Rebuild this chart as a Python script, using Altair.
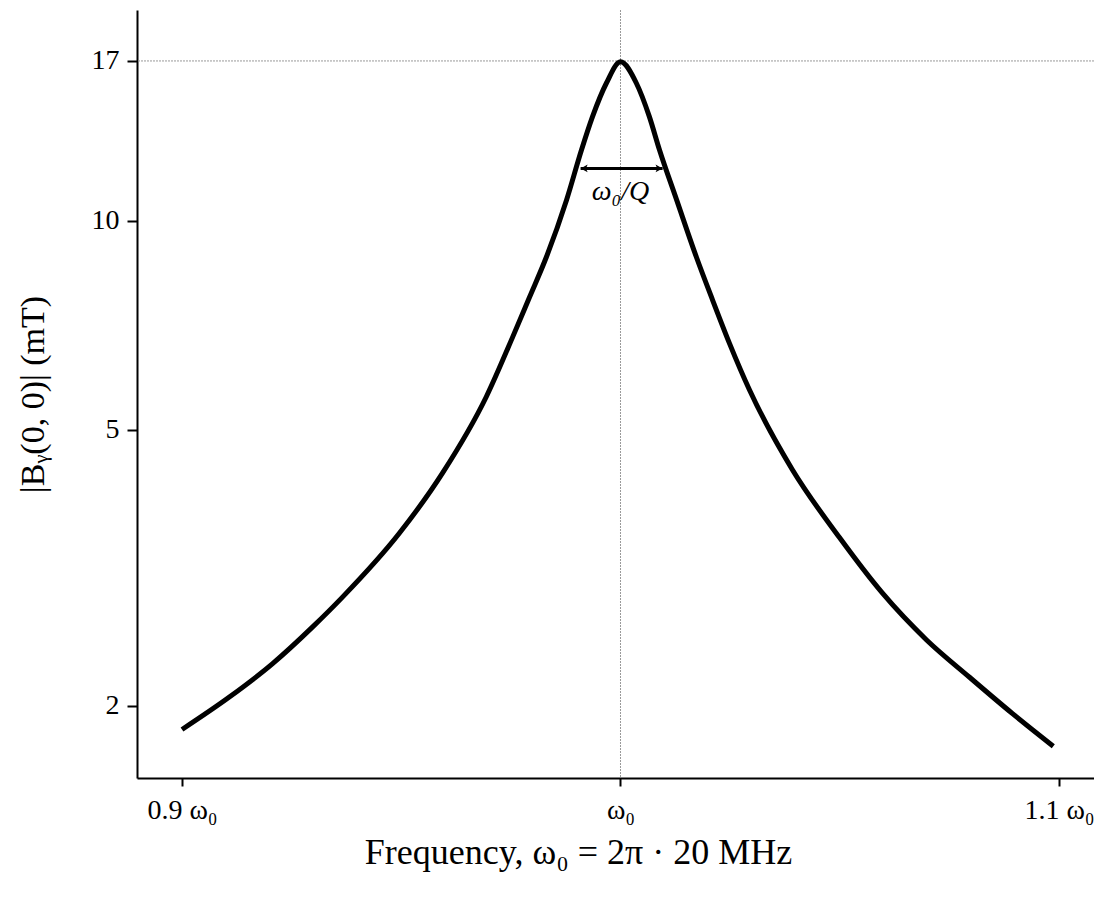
import altair as alt
import pandas as pd

# Curve
freq = [0.9, 0.9108, 0.9206, 0.9298, 0.9366, 0.9496, 0.9594, 0.9694, 0.9754,
        0.9792, 0.9831, 0.9877, 0.9911, 0.9936, 0.9968, 1.0,
        1.0036, 1.0066, 1.0089, 1.0128, 1.0173, 1.0210, 1.0249, 1.0294, 1.0392,
        1.0499, 1.0597, 1.0698, 1.0796, 1.0894, 1.0987]
bmag = [1.85, 2.06, 2.30, 2.60, 2.87, 3.55, 4.33, 5.58, 6.80,
        7.75, 8.87, 10.72, 12.65, 14.12, 15.80, 16.95,
        15.80, 14.12, 12.65, 10.72, 8.87, 7.69, 6.65, 5.71, 4.38,
        3.50, 2.91, 2.49, 2.20, 1.95, 1.75]

x_ticks = [0.9, 1.0, 1.1]
x_tick_labels = ["0.9 ω₀", "ω₀", "1.1 ω₀"]
y_ticks = [2, 5, 10, 17]

peak_value = [17]
center_freq = [1.0]
arrow_x = [0.9909, 1.0096]
arrow_y = [11.9]
arrow_label = ["ω₀/Q"]
label_y = [11.0]

X_DOMAIN = [0.88974, 1.10798]
Y_DOMAIN = [1.575, 20.13]
FONT = "Liberation Serif"

df = pd.DataFrame({"f": freq, "b": bmag})

xscale = alt.Scale(domain=X_DOMAIN, nice=False, zero=False)
yscale = alt.Scale(type="log", domain=Y_DOMAIN, nice=False)

label_expr = " : ".join(
    [f"datum.value < {v + 0.05} ? '{l}'" for v, l in zip(x_ticks[:-1], x_tick_labels[:-1])]
) + f" : '{x_tick_labels[-1]}'"

xaxis = alt.Axis(values=x_ticks, labelExpr=label_expr, grid=False,
                 domainColor="black", domainWidth=2, tickColor="black", tickWidth=2,
                 tickSize=8, labelFont=FONT, labelFontSize=28, labelColor="black",
                 labelPadding=10, title="Frequency, ω₀ = 2π · 20 MHz",
                 titleFont=FONT, titleFontSize=36, titleFontWeight="normal",
                 titleColor="black", titleX=441, titleY=74, titleAlign="center",
                 titleBaseline="middle", labelFlush=False)
yaxis = alt.Axis(values=y_ticks, grid=False, domainColor="black", domainWidth=2,
                 tickColor="black", tickWidth=2, tickSize=10, labelFont=FONT,
                 labelFontSize=28, labelColor="black", labelPadding=8,
                 title="|Bᵧ(0, 0)| (mT)", titleFont=FONT, titleFontSize=34,
                 titleFontWeight="normal", titleColor="black", titleX=-104,
                 titleBaseline="middle", labelFlush=False)

curve = alt.Chart(df).mark_line(color="black", strokeWidth=5, interpolate="monotone",
                                clip=True).encode(
    x=alt.X("f:Q", scale=xscale, axis=xaxis),
    y=alt.Y("b:Q", scale=yscale, axis=yaxis),
)

hline = alt.Chart(pd.DataFrame({"v": peak_value})).mark_rule(
    color="#999999", strokeWidth=1, strokeDash=[2, 1]).encode(
    y=alt.Y("v:Q", scale=yscale))

vline = alt.Chart(pd.DataFrame({"c": center_freq})).mark_rule(
    color="#999999", strokeWidth=1, strokeDash=[2, 1]).encode(
    x=alt.X("c:Q", scale=xscale))

arrow_df = pd.DataFrame({"x1": [arrow_x[0]], "x2": [arrow_x[1]], "y": arrow_y})
arrow_line = alt.Chart(arrow_df).mark_rule(color="black", strokeWidth=3).encode(
    x=alt.X("x1:Q", scale=xscale), x2="x2:Q", y=alt.Y("y:Q", scale=yscale))

heads_df = pd.DataFrame({"x": arrow_x, "y": arrow_y * 2, "ang": [180, 0]})
heads = alt.Chart(heads_df).mark_point(
    shape="M0,0 L-1,-0.55 L-0.75,0 L-1,0.55 Z", filled=True, color="black",
    size=200, opacity=1).encode(
    x=alt.X("x:Q", scale=xscale), y=alt.Y("y:Q", scale=yscale),
    angle=alt.Angle("ang:Q", scale=None))

label = alt.Chart(pd.DataFrame({"x": center_freq, "y": label_y, "t": arrow_label})).mark_text(
    font=FONT, fontSize=28, fontStyle="italic", color="black", baseline="middle").encode(
    x=alt.X("x:Q", scale=xscale), y=alt.Y("y:Q", scale=yscale), text="t:N")

chart = alt.layer(hline, vline, curve, arrow_line, heads, label).properties(
    width=957, height=768,
    autosize=alt.AutoSizeParams(type="none"),
    padding={"left": 137, "top": 10, "right": 0, "bottom": 120},
    background="white",
).configure_view(stroke=None)

chart.save("out.html", embed_options={"renderer": "svg", "actions": False})
